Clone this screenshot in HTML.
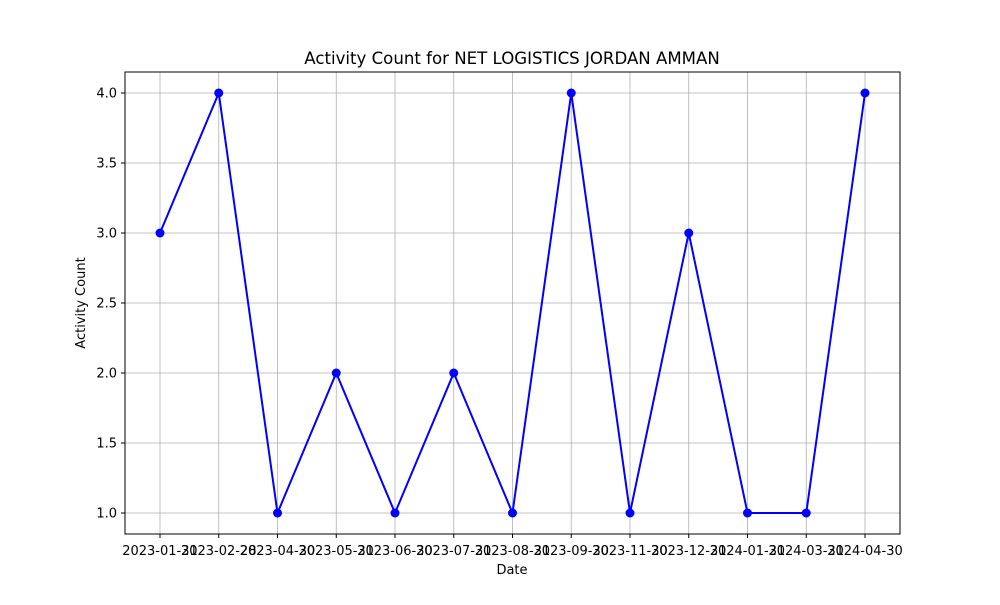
<!DOCTYPE html>
<html><head><meta charset="utf-8"><style>
body{margin:0;background:#fff;font-family:"Liberation Sans","DejaVu Sans",sans-serif}
text{font-family:"DejaVu Sans","Liberation Sans",sans-serif}
</style></head><body>
<svg id="chart" width="1000" height="600" xmlns="http://www.w3.org/2000/svg">
<rect width="1000" height="600" fill="#fff"/>
<text x="512" y="64" font-size="16.6" text-anchor="middle">Activity Count for NET LOGISTICS JORDAN AMMAN</text>
<g id="grid"></g>
<g id="ticks"></g>
<rect x="125" y="72" width="775" height="462" fill="none" stroke="#000" stroke-width="1"/>
<g id="series"></g>
<text x="512" y="574" font-size="13" text-anchor="middle">Date</text>
<text x="85" y="303" font-size="13" text-anchor="middle" transform="rotate(-90 85 303)">Activity Count</text>
</svg>
<script>
const categories=["2023-01-31","2023-02-28","2023-04-30","2023-05-31","2023-06-30","2023-07-31","2023-08-31","2023-09-30","2023-11-30","2023-12-31","2024-01-31","2024-03-31","2024-04-30"];
const counts=[3,4,1,2,1,2,1,4,1,3,1,1,4];
const yTicks=[1.0,1.5,2.0,2.5,3.0,3.5,4.0];
const NS="http://www.w3.org/2000/svg";
const x0=160,x1=865,yTop=93,yBot=513;
const yMin=1,yMax=4;
function xs(i){return x0+(x1-x0)*i/(categories.length-1);}
function ys(v){return yBot-(v-yMin)/(yMax-yMin)*(yBot-yTop);}
function mk(t,a,p){const e=document.createElementNS(NS,t);for(const k in a)e.setAttribute(k,a[k]);p.appendChild(e);return e;}
const grid=document.getElementById('grid'),ticks=document.getElementById('ticks'),ser=document.getElementById('series');
categories.forEach((c,i)=>{
 const x=xs(i);
 const g=mk('line',{x1:x,x2:x,y1:72,y2:534,stroke:'#b0b0b0','stroke-width':0.8},grid);
 
 
 mk('line',{x1:x,x2:x,y1:534,y2:538,stroke:'#000'},ticks);
 const t=mk('text',{x:x,y:555,'font-size':13,'text-anchor':'middle'},ticks);
 t.textContent=c;
 
 
});
yTicks.forEach(v=>{
 const y=ys(v);
 const g=mk('line',{x1:125,x2:900,y1:y,y2:y,stroke:'#b0b0b0','stroke-width':0.8},grid);
 
 
 mk('line',{x1:121,x2:125,y1:y,y2:y,stroke:'#000'},ticks);
 const t=mk('text',{x:117,y:y+4.5,'font-size':13,'text-anchor':'end'},ticks);
 t.textContent=v.toFixed(1);
 
 
});
const pl=mk('polyline',{points:counts.map((v,i)=>xs(i)+','+ys(v)).join(' '),fill:'none',stroke:'#0000ff','stroke-width':2},ser);


counts.forEach((v,i)=>{
 const c=mk('circle',{cx:xs(i),cy:ys(v),r:4.5,fill:'#0000ff'},ser);
 
 
});
</script>
</body></html>
